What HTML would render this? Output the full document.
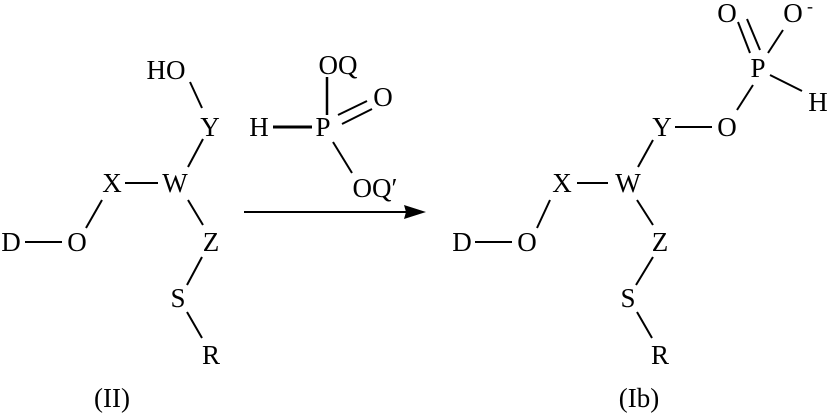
<!DOCTYPE html>
<html><head><style>html,body{margin:0;padding:0;background:#fff}svg{display:block}</style></head>
<body>
<svg width="830" height="415" viewBox="0 0 830 415" xmlns="http://www.w3.org/2000/svg">
<g font-family="Liberation Serif, serif" font-size="27" text-anchor="middle" fill="#000">
<text x="166" y="79">HO</text>
<text x="210" y="136">Y</text>
<text x="112" y="192">X</text>
<text x="175" y="192">W</text>
<text x="11" y="251">D</text>
<text x="77" y="251">O</text>
<text x="211" y="251">Z</text>
<text x="178" y="307">S</text>
<text x="211" y="364">R</text>
<text x="259" y="136">H</text>
<text x="323" y="136">P</text>
<text x="338" y="74">OQ</text>
<text x="383" y="106">O</text>
<text x="375" y="197">OQ′</text>
<text x="112" y="407">(II)</text>

<text x="727" y="22">O</text>
<text x="793" y="22">O</text>
<text x="810" y="12" font-size="18">-</text>
<text x="758" y="77">P</text>
<text x="818" y="111">H</text>
<text x="727" y="136">O</text>
<text x="662" y="136">Y</text>
<text x="562" y="192">X</text>
<text x="628" y="192">W</text>
<text x="462" y="251">D</text>
<text x="527" y="251">O</text>
<text x="660" y="251">Z</text>
<text x="628" y="307">S</text>
<text x="660" y="364">R</text>
<text x="639" y="407">(Ib)</text>
</g>
<g stroke="#000" stroke-width="2" fill="none">
<line x1="190" y1="82" x2="202" y2="108"/>
<line x1="203" y1="139" x2="188" y2="167"/>
<line x1="125" y1="183" x2="158" y2="183"/>
<line x1="102" y1="200" x2="86" y2="228"/>
<line x1="25" y1="242" x2="62" y2="242"/>
<line x1="188" y1="200" x2="203" y2="225"/>
<line x1="202" y1="257" x2="187" y2="285"/>
<line x1="187" y1="312" x2="202" y2="338"/>
<line x1="273" y1="127" x2="312" y2="127" stroke-width="3"/>
<line x1="327" y1="77" x2="327" y2="115" stroke-width="2.5"/>
<line x1="338" y1="115" x2="367" y2="101"/>
<line x1="342" y1="124" x2="372" y2="109"/>
<line x1="333" y1="142" x2="352" y2="173"/>
<line x1="244" y1="212" x2="406" y2="212"/>

<line x1="738" y1="22" x2="750" y2="53"/>
<line x1="747" y1="19" x2="760" y2="50"/>
<line x1="783" y1="30" x2="768" y2="53"/>
<line x1="770" y1="75" x2="802" y2="91"/>
<line x1="753" y1="85" x2="737" y2="110"/>
<line x1="675" y1="127" x2="712" y2="127"/>
<line x1="653" y1="140" x2="638" y2="167"/>
<line x1="577" y1="183" x2="608" y2="183"/>
<line x1="550" y1="200" x2="537" y2="228"/>
<line x1="475" y1="242" x2="512" y2="242"/>
<line x1="637" y1="200" x2="653" y2="225"/>
<line x1="653" y1="257" x2="636" y2="285"/>
<line x1="637" y1="312" x2="652" y2="338"/>
</g>
<polygon points="426,212 404,205 406,212 404,219" fill="#000"/>
</svg>
</body></html>
